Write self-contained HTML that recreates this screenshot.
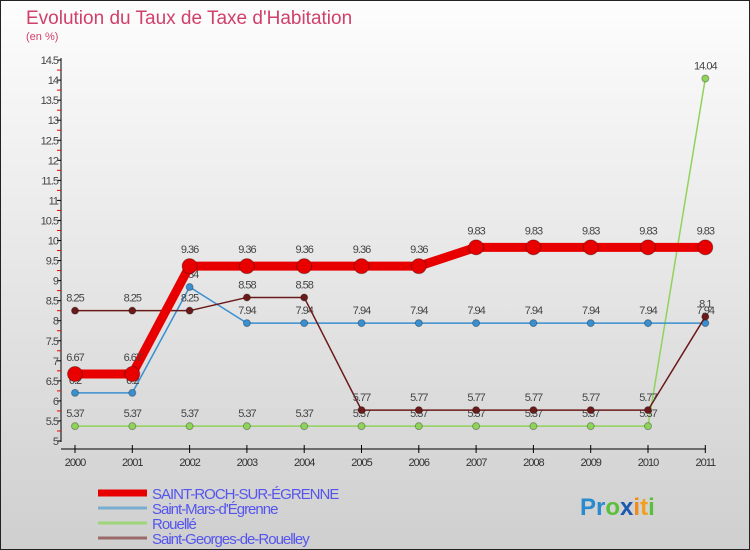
<!DOCTYPE html>
<html><head><meta charset="utf-8"><style>
body{margin:0;width:750px;height:550px;overflow:hidden;font-family:"Liberation Sans",sans-serif}
#c{position:absolute;left:0;top:0;width:748px;height:548px;border:1px solid #222;background:linear-gradient(#fdfdfd,#cfcfcf)}
</style></head><body>
<div id="c">
<svg id="s" width="750" height="550" style="position:absolute;left:-1px;top:-1px">
<text x="26" y="24" font-size="19" fill="#d0406a">Evolution du Taux de Taxe d'Habitation</text>
<text x="26" y="40" font-size="11" fill="#d0406a">(en %)</text>
</svg>
</div>
<script>
const years=["2000","2001","2002","2003","2004","2005","2006","2007","2008","2009","2010","2011"];
const yTicks=[5,5.5,6,6.5,7,7.5,8,8.5,9,9.5,10,10.5,11,11.5,12,12.5,13,13.5,14,14.5];
const saintRoch=[6.67,6.67,9.36,9.36,9.36,9.36,9.36,9.83,9.83,9.83,9.83,9.83];
const saintMars=[6.2,6.2,8.84,7.94,7.94,7.94,7.94,7.94,7.94,7.94,7.94,7.94];
const rouelle=[5.37,5.37,5.37,5.37,5.37,5.37,5.37,5.37,5.37,5.37,5.37,14.04];
const saintGeorges=[8.25,8.25,8.25,8.58,8.58,5.77,5.77,5.77,5.77,5.77,5.77,8.1];
const seriesNames=["SAINT-ROCH-SUR-ÉGRENNE","Saint-Mars-d'Égrenne","Rouellé","Saint-Georges-de-Rouelley"];
const NS="http://www.w3.org/2000/svg",svg=document.getElementById('s');
const X=i=>75+i*57.3, Y=v=>441-(v-5)*40.1;
function mk(t,a,p){const e=document.createElementNS(NS,t);for(const k in a)e.setAttribute(k,a[k]);(p||svg).appendChild(e);return e;}
let ax=mk('line',{x1:61,y1:58,x2:61,y2:442,stroke:'#000'});


let xa=mk('line',{x1:61,y1:449,x2:706,y2:449,stroke:'#000'});


for(let v=5;v<=14.5001;v+=0.25){mk('line',{x1:57,x2:61,y1:Y(v),y2:Y(v),stroke:Math.abs(v*2-Math.round(v*2))<1e-6?'#000':'#e00'});}
yTicks.forEach(v=>{const t=mk('text',{x:58,y:Y(v)+4,'text-anchor':'end','font-size':11,fill:'#444','letter-spacing':'-1'});t.textContent=String(v);

});
years.forEach((y,i)=>{mk('line',{x1:X(i),x2:X(i),y1:445,y2:453,stroke:'#000'});const t=mk('text',{x:X(i),y:466,'text-anchor':'middle','font-size':11,fill:'#333','letter-spacing':'-1'});t.textContent=y;

});
function series(d,col,w,r,name){const g=mk('g',{});


mk('polyline',{points:d.map((v,i)=>X(i)+','+Y(v)).join(' '),fill:'none',stroke:col,'stroke-width':w,'stroke-linejoin':'round'},g);
d.forEach((v,i)=>{const c=mk('circle',{cx:X(i),cy:Y(v),r:r,fill:col,stroke:'rgba(0,0,0,0.3)'},g);


const t=mk('text',{x:X(i),y:Y(v)-9-(r>5?4:0),'text-anchor':'middle','font-size':11,fill:'#444','letter-spacing':'-1'},g);t.textContent=String(v);});}
series(rouelle,'#8fd45a',1.5,3.5,'series-rouelle');
series(saintMars,'#3a8fd0',1.5,3.5,'series-saint-mars');
series(saintGeorges,'#6b1a1a',1.5,3.5,'series-saint-georges');
series(saintRoch,'#e80000',9,7.5,'series-saint-roch');
const lc=['#e80000','#7aaed0','#9ed47a','#9a6a6a'],lw=[7,3,3,3];
seriesNames.forEach((n,i)=>{const g=mk('g',{});


const yy=493+i*15;mk('line',{x1:98,x2:147,y1:yy,y2:yy,stroke:lc[i],'stroke-width':lw[i]},g);
const t=mk('text',{x:152,y:yy+6,'font-size':15,fill:'#5555ee','letter-spacing':'-1'},g);t.textContent=n;});
const lg=mk('text',{x:580,y:515,'font-size':24,'font-weight':'bold'});


[['P','#2a8ad0'],['r','#2a8ad0'],['o','#5abf3a'],['x','#1a5ab0'],['i','#f08a1a'],['t','#f0a01a'],['i','#5abf3a']].forEach(([c,f])=>{const ts=mk('tspan',{fill:f},lg);ts.textContent=c;});
</script>
</body></html>
